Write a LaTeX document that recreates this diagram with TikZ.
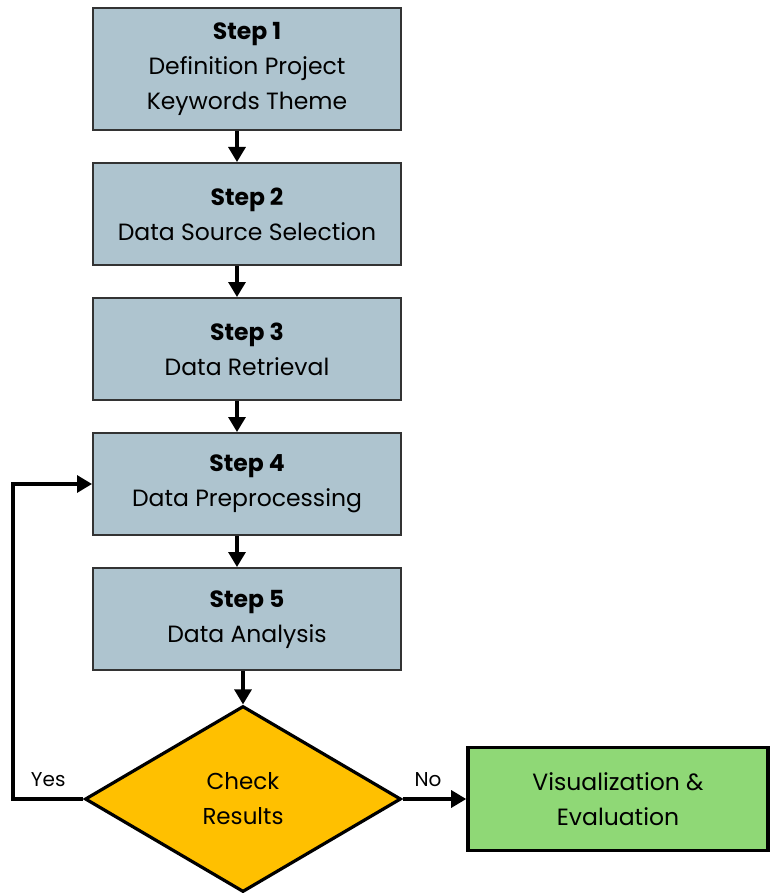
\documentclass[tikz,border=0pt]{standalone}
\usepackage{fontspec}
\setmainfont{Poppins}
\usetikzlibrary{shapes.geometric,arrows.meta}
\definecolor{stepblue}{RGB}{174,196,207}
\definecolor{checkgold}{RGB}{255,192,0}
\definecolor{endgreen}{RGB}{143,216,118}
\tikzset{
  stepbox/.style={draw=black!80,line width=2pt,fill=stepblue,minimum width=308pt,align=center,
    font=\fontsize{23.5}{35}\selectfont},
  decision/.style={draw,line width=3.2pt,fill=checkgold,diamond,minimum width=316pt,minimum height=186pt,
    inner sep=0pt,align=center,font=\fontsize{23}{35}\selectfont},
  endbox/.style={draw,line width=3.6pt,fill=endgreen,minimum width=300pt,minimum height=103pt,align=center,
    font=\fontsize{23.5}{35}\selectfont},
  arr/.style={line width=3.2pt,-{Triangle[width=17pt,length=15pt]}},
  lbl/.style={font=\fontsize{20}{22}\selectfont,inner sep=3pt,above=8pt}
}
\begin{document}
\begin{tikzpicture}[x=1pt,y=-1pt]
\useasboundingbox (0,0) rectangle (769,893);
\node[stepbox,minimum height=122pt] (s1) at (247,69) {\textbf{Step 1}\\Definition Project\\Keywords Theme};
\node[stepbox,minimum height=102pt] (s2) at (247,214) {\textbf{Step 2}\\Data Source Selection};
\node[stepbox,minimum height=102pt] (s3) at (247,349) {\textbf{Step 3}\\Data Retrieval};
\node[stepbox,minimum height=102pt] (s4) at (247,484) {\textbf{Step 4}\\Data Preprocessing};
\node[stepbox,minimum height=102pt] (s5) at (247,619) {\textbf{Step 5}\\Data Analysis};
\node[decision] (chk) at (243,799) {Check\\Results};
\node[endbox] (vis) at (618,799) {Visualization \&\\Evaluation};
\draw[arr] ([xshift=-10pt]s1.south) -- ([xshift=-10pt]s2.north);
\draw[arr] ([xshift=-10pt]s2.south) -- ([xshift=-10pt]s3.north);
\draw[arr] ([xshift=-10pt]s3.south) -- ([xshift=-10pt]s4.north);
\draw[arr] ([xshift=-10pt]s4.south) -- ([xshift=-10pt]s5.north);
\draw[arr] ([xshift=-4pt]s5.south) -- (chk.north);
\draw[arr] (chk.east) -- node[lbl,pos=0.4] {No} (vis.west);
\draw[arr] (chk.west) -- node[lbl,pos=0.5] {Yes} (13,799) |- (s4.west);
\end{tikzpicture}
\end{document}
